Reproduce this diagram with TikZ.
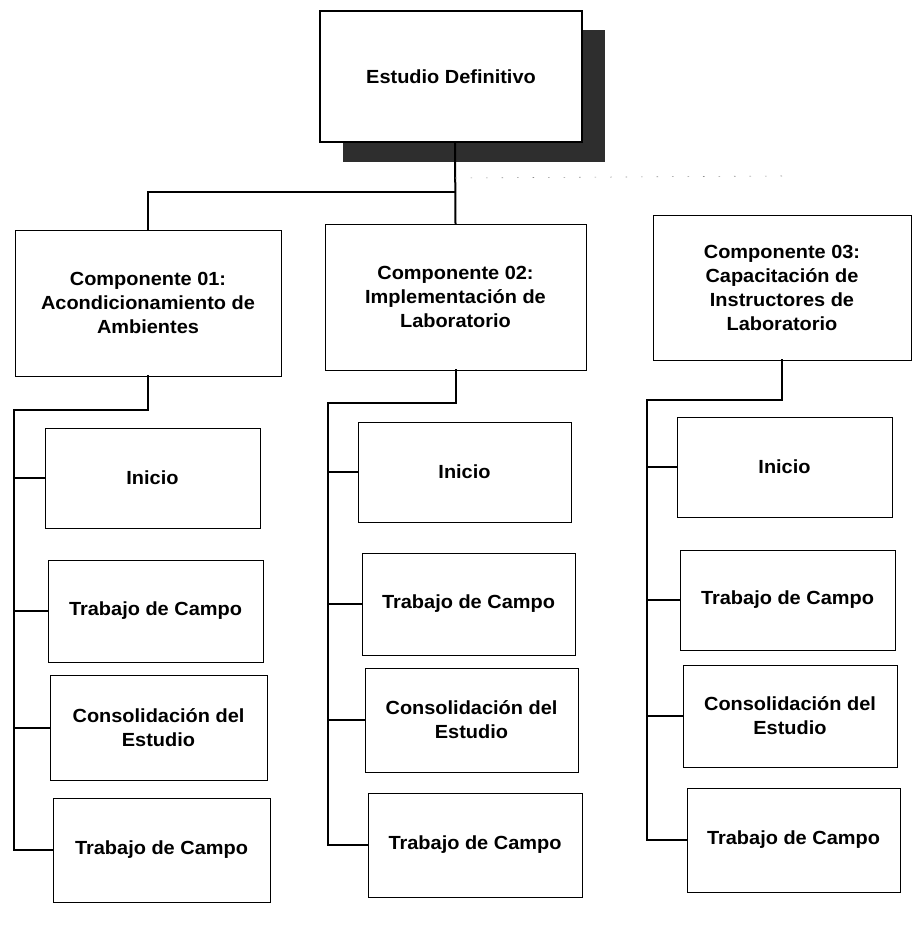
\documentclass[tikz,border=0pt]{standalone}
\usepackage{fontspec}
\setmainfont{Liberation Sans}[FakeStretch=1.05]
\begin{document}
\begin{tikzpicture}[x=1pt,y=-1pt,
  box/.style={draw=black, line width=0.9pt, fill=white, align=center, inner sep=2pt,
    font=\fontsize{19}{24}\selectfont\bfseries},
  conn/.style={draw=black, line width=2pt, line cap=rect},
  faint/.style={draw=black!45, line width=0.6pt, dash pattern=on 1.5pt off 14pt}]
\useasboundingbox (0,0) rectangle (912,938);
% shadow of top box
\fill[black!82] (343,30) rectangle (605,162);
\node[box, line width=1.1pt, minimum width=262pt, minimum height=131pt] (top) at (451,76.5) {Estudio Definitivo};

% components
\node[box, minimum width=266pt, minimum height=146pt] (comp1) at (148,303) {Componente 01:\\Acondicionamiento de\\Ambientes};
\node[box, minimum width=261pt, minimum height=146pt] (comp2) at (455.5,297) {Componente 02:\\Implementación de\\Laboratorio};
\node[box, minimum width=258pt, minimum height=145pt] (comp3) at (782,287.5) {Componente 03:\\Capacitación de\\Instructores de\\Laboratorio};

% column 1 children
\node[box, minimum width=215pt, minimum height=100pt] (c1a) at (152.5,478) {Inicio};
\node[box, minimum width=215pt, minimum height=102pt] (c1b) at (155.5,611) {Trabajo de Campo};
\node[box, minimum width=217pt, minimum height=105pt] (c1c) at (158.5,727.5) {Consolidación del\\Estudio};
\node[box, minimum width=217pt, minimum height=104pt] (c1d) at (161.5,850) {Trabajo de Campo};

% column 2 children
\node[box, minimum width=213pt, minimum height=100pt] (c2a) at (464.5,472) {Inicio};
\node[box, minimum width=213pt, minimum height=102pt] (c2b) at (468.5,604) {Trabajo de Campo};
\node[box, minimum width=213pt, minimum height=104pt] (c2c) at (471.5,720) {Consolidación del\\Estudio};
\node[box, minimum width=214pt, minimum height=104pt] (c2d) at (475,845) {Trabajo de Campo};

% column 3 children
\node[box, minimum width=215pt, minimum height=100pt] (c3a) at (784.5,467) {Inicio};
\node[box, minimum width=215pt, minimum height=100pt] (c3b) at (787.5,600) {Trabajo de Campo};
\node[box, minimum width=214pt, minimum height=102pt] (c3c) at (790,716) {Consolidación del\\Estudio};
\node[box, minimum width=213pt, minimum height=104pt] (c3d) at (793.5,840) {Trabajo de Campo};

% junction coordinates
\coordinate (j0) at (455,192);
\coordinate (jf) at (455,178);
\coordinate (fe) at (782,176);
\coordinate (s1) at (14,410);
\coordinate (s2) at (328,403);
\coordinate (s3) at (647,400);

% top level connectors
\draw[conn] (top.south -| j0) -- (comp2.north);
\draw[conn] (comp1.north) |- (j0);
\draw[faint] (jf) -- (fe);

% column 1
\draw[conn] (comp1.south) |- (s1) |- (c1d.west);
\draw[conn] (s1 |- c1a.west) -- (c1a.west);
\draw[conn] (s1 |- c1b.west) -- (c1b.west);
\draw[conn] (s1 |- c1c.west) -- (c1c.west);

% column 2
\draw[conn] (comp2.south) |- (s2) |- (c2d.west);
\draw[conn] (s2 |- c2a.west) -- (c2a.west);
\draw[conn] (s2 |- c2b.west) -- (c2b.west);
\draw[conn] (s2 |- c2c.west) -- (c2c.west);

% column 3
\draw[conn] (comp3.south) |- (s3) |- (c3d.west);
\draw[conn] (s3 |- c3a.west) -- (c3a.west);
\draw[conn] (s3 |- c3b.west) -- (c3b.west);
\draw[conn] (s3 |- c3c.west) -- (c3c.west);
\end{tikzpicture}
\end{document}
